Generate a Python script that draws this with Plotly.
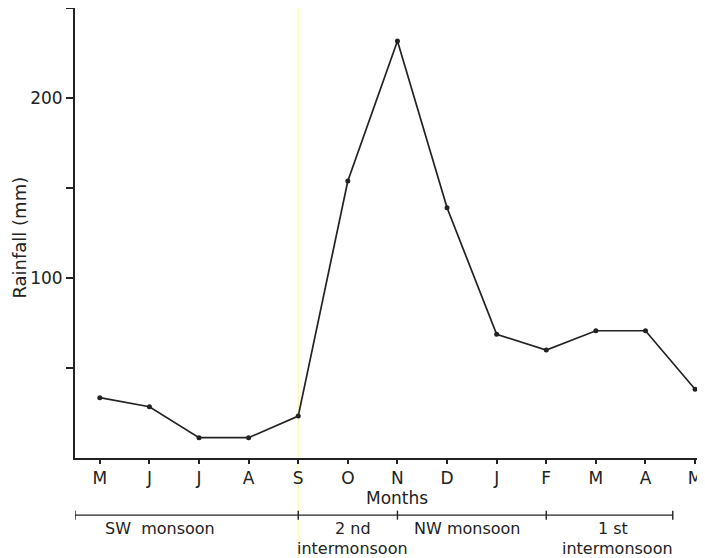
import plotly.graph_objects as go

months = ["M", "J", "J", "A", "S", "O", "N", "D", "J", "F", "M", "A", "M"]
rainfall = [33.5, 28.5, 11.3, 11.3, 23.3, 153.9, 231.7, 139.0, 68.7, 60.0, 70.7, 70.7, 38.2]
y_ticks = [50, 100, 150, 200, 250]
y_ticklabels = ["", "100", "", "200", ""]
season_bounds = [-0.5, 4, 6, 9, 11.55]
season_line1 = ["SW  monsoon", "2 nd", "NW monsoon", "1 st"]
season_line1_x = [1.22, 5.1, 7.4, 10.34]
season_line2 = ["", "intermonsoon", "", "intermonsoon"]
season_line2_x = [0, 5.1, 0, 10.44]

ink = "#222222"
font = "DejaVu Sans"
fs = 17
x_idx = list(range(len(months)))

fig = go.Figure()
fig.add_trace(go.Scatter(
    x=x_idx, y=rainfall, mode="lines+markers",
    line=dict(color=ink, width=1.7),
    marker=dict(color=ink, size=5),
    cliponaxis=False, showlegend=False,
))

shapes = []
# scan artifact: faint yellow vertical line
shapes.append(dict(type="line", xref="x", yref="paper", x0=4, x1=4, y0=-0.25, y1=1.02,
                   line=dict(color="rgba(250,243,140,0.75)", width=1), layer="below"))
# season bar
sy = -0.127
shapes.append(dict(type="line", xref="x", yref="paper", x0=season_bounds[0], x1=season_bounds[-1],
                   y0=sy, y1=sy, line=dict(color=ink, width=1.4)))
for b in season_bounds:
    shapes.append(dict(type="line", xref="x", yref="paper", x0=b, x1=b,
                       y0=sy - 0.01, y1=sy + 0.01, line=dict(color=ink, width=1.4)))

tf = dict(family=font, size=fs, color=ink)
sf = dict(family=font, size=16, color=ink)
annotations = [
    dict(text="Months", xref="x", yref="paper", x=6, y=-0.089, yanchor="middle",
         xanchor="center", showarrow=False, font=tf),
    dict(text="Rainfall (mm)", xref="paper", yref="paper", x=-0.0881, y=0.491, textangle=-90,
         xanchor="center", yanchor="middle", showarrow=False,
         font=dict(family=font, size=18, color=ink)),
]
for lab, lx in zip(season_line1, season_line1_x):
    annotations.append(dict(text=lab, xref="x", yref="paper", x=lx, y=-0.156,
                            xanchor="center", yanchor="middle", showarrow=False, font=sf))
for lab, lx in zip(season_line2, season_line2_x):
    if lab:
        annotations.append(dict(text=lab, xref="x", yref="paper", x=lx, y=-0.2,
                                xanchor="center", yanchor="middle", showarrow=False, font=sf))

fig.update_layout(
    width=697, height=550,
    margin=dict(l=67, r=0, t=0, b=100, autoexpand=False),
    paper_bgcolor="white", plot_bgcolor="white",
    shapes=shapes, annotations=annotations,
    font=tf,
    xaxis=dict(range=[-0.5, 12.2], tickmode="array", tickvals=x_idx, ticktext=months,
               showgrid=False, zeroline=False, showline=True, linecolor=ink, linewidth=2,
               ticks="outside", ticklen=4, tickcolor=ink, tickwidth=1.5,
               tickfont=tf, automargin=False),
    yaxis=dict(range=[0, 250], tickmode="array", tickvals=y_ticks, ticktext=y_ticklabels,
               showgrid=False, zeroline=False, showline=True, linecolor=ink, linewidth=2,
               ticks="outside", ticklen=7, tickcolor=ink, tickwidth=1.5,
               tickfont=tf, automargin=False),
)

fig.write_html("out.html")
